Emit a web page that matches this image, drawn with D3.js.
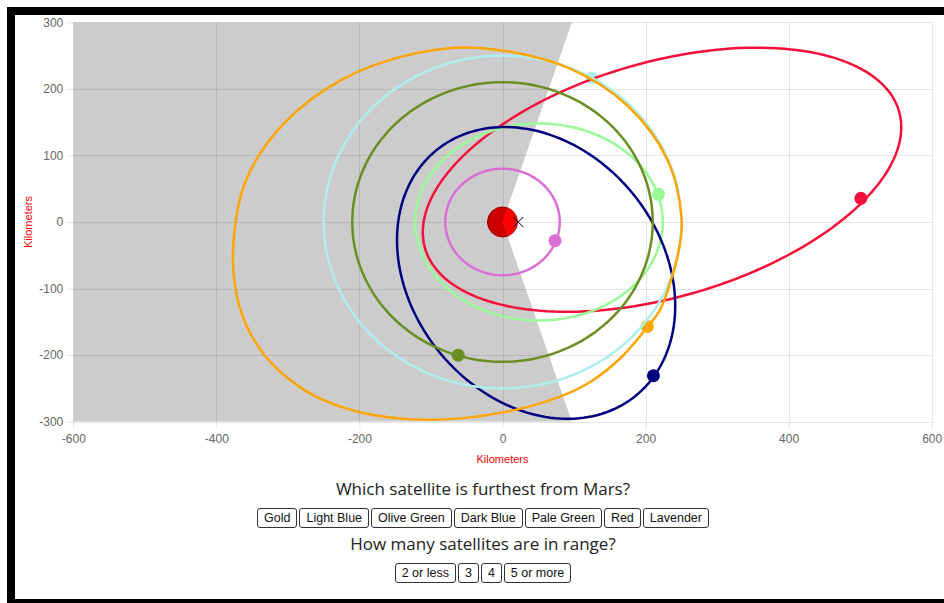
<!DOCTYPE html>
<html>
<head>
<meta charset="utf-8">
<script src="https://cdn.jsdelivr.net/npm/d3@7/dist/d3.min.js"></script>
<style>
  html, body { margin: 0; padding: 0; background: #fff; overflow: hidden; }
  body { width: 944px; height: 603px; position: relative; }
  #frame { position: absolute; left: 7px; top: 7px; width: 1000px; height: 700px;
           border-left: 8px solid #000; border-top: 8px solid #000; }
  #bottombar { position: absolute; left: 7px; top: 599px; width: 940px; height: 4px; background: #000; }
  svg { position: absolute; left: 0; top: 0; }
  .q { position: absolute; left: 15px; width: 936px; text-align: center;
       font-family: "Open Sans", sans-serif; font-size: 17px; color: #222; line-height: 20px; }
  .row { position: absolute; left: 15px; width: 936px; display: flex; justify-content: center; gap: 2px; }
  .row button { font-family: Arial, "Liberation Sans", sans-serif; font-size: 12.5px; color: #111;
       background: #fff; border: 1px solid #333; border-radius: 3px; padding: 0 6px; height: 20px;
       line-height: 18px; margin: 0; }
</style>
</head>
<body>
<div id="frame"></div>
<div id="bottombar"></div>
<svg id="chart" width="944" height="603"></svg>
<div class="q" style="top:479px">Which satellite is furthest from Mars?</div>
<div class="row" id="row1" style="top:508px"></div>
<div class="q" style="top:534px">How many satellites are in range?</div>
<div class="row" id="row2" style="top:563px"></div>
<script>
// ---- data ----
const satNames   = ["Gold", "Light Blue", "Olive Green", "Dark Blue", "Pale Green", "Red", "Lavender"];
const satColors  = ["#ffa500", "#afeeee", "#6b8e23", "#000080", "#98fb98", "#f5103a", "#da70d6"];
// elliptical orbits: centre (km), semi-axes (km), tilt (deg); null = traced orbit
const orbitCx    = [null, 0, 0, 47, 51, 223, 0];
const orbitCy    = [null, 0, 0, -76.5, 0, 63.5, 0];
const orbitA     = [null, 250, 210, 232, 173, 347, 80];
const orbitB     = [null, 250, 210, 179, 148, 175.5, 80];
const orbitTilt  = [null, 0, 0, -59, 0, 18, 0];
// Gold orbit trace (km)
const goldOrbitX = [-376.8, -358.9, -305.2, -222.5, -120.4, -31.5, 91.2, 175.3, 230.6, 250.5, 246, 234.2, 220.2, 202.4, 167.9, 126.9, 80.4, 1.1, -97, -181, -237, -279, -321, -349, -363, -371.4];
const goldOrbitY = [-45, 61.7, 148.4, 215.1, 253.7, 261.4, 232, 174.3, 93.4, 3, -45, -92, -132, -158.2, -201.3, -237.3, -262.4, -286, -297, -290, -273.3, -251, -214.4, -174.2, -142, -110.7];
// satellite positions
const satX       = [202.5, 125, -62, 211, 218, 501, 73.4];
const satY       = [-157, 216.5, -200, -231, 41.6, 35.6, -28];
// out-of-range shading
const shadeX     = [-600, 97, 0, 97, -600];
const shadeY     = [300, 300, 0, -300, -300];
const marsX = 0, marsY = 0;
const markX = 22, markY = 0;
const xTicks = [-600, -400, -200, 0, 200, 400, 600];
const yTicks = [-300, -200, -100, 0, 100, 200, 300];
const rangeAnswers = ["2 or less", "3", "4", "5 or more"];

// ---- scales ----
const x = d3.scaleLinear().domain([-600, 600]).range([73.3, 931.7]);
const y = d3.scaleLinear().domain([-300, 300]).range([421.7, 22.3]);
const svg = d3.select("#chart");
const fmt = d => String(d);

svg.append("defs").append("clipPath").attr("id", "plotclip").append("rect")
  .attr("x", x(-600)).attr("y", y(300))
  .attr("width", x(600) - x(-600)).attr("height", y(-300) - y(300));

// gridlines
const grid = svg.append("g").attr("stroke", "rgba(0,0,0,0.1)").attr("stroke-width", 1);
grid.selectAll(".gx").data(xTicks).join("line")
  .attr("x1", d => Math.round(x(d)) + 0.5).attr("x2", d => Math.round(x(d)) + 0.5)
  .attr("y1", y(300)).attr("y2", y(-300));
grid.selectAll(".gy").data(yTicks).join("line")
  .attr("y1", d => Math.round(y(d)) + 0.5).attr("y2", d => Math.round(y(d)) + 0.5)
  .attr("x1", x(-600)).attr("x2", x(600));

// axes
const axX = svg.append("g").attr("transform", `translate(0,${y(-300)})`)
  .call(d3.axisBottom(x).tickValues(xTicks).tickFormat(fmt).tickSize(7).tickPadding(6));
const axY = svg.append("g").attr("transform", `translate(${x(-600)},0)`)
  .call(d3.axisLeft(y).tickValues(yTicks).tickFormat(fmt).tickSize(7).tickPadding(3));
[axX, axY].forEach(a => {
  a.select(".domain").remove();
  a.selectAll("line").attr("stroke", "rgba(0,0,0,0.1)");
  a.selectAll("text").attr("fill", "#666").attr("font-size", 12)
    .attr("font-family", "'Liberation Sans', Arial, sans-serif");
});
svg.append("text").attr("x", (x(-600) + x(600)) / 2).attr("y", 463)
  .attr("text-anchor", "middle").attr("fill", "red").attr("font-size", 11)
  .attr("font-family", "'Liberation Sans', Arial, sans-serif").text("Kilometers");
svg.append("text").attr("transform", `translate(32,${y(0)}) rotate(-90)`)
  .attr("text-anchor", "middle").attr("fill", "red").attr("font-size", 11)
  .attr("font-family", "'Liberation Sans', Arial, sans-serif").text("Kilometers");

const plot = svg.append("g").attr("clip-path", "url(#plotclip)");

// Mars
plot.append("circle").attr("cx", x(marsX)).attr("cy", y(marsY)).attr("r", 15)
  .attr("fill", "#ff0000").attr("stroke", "#b00000").attr("stroke-width", 1);

// shaded out-of-range wedge
const shadePts = shadeX.map((v, i) => [x(v), y(shadeY[i])]);
plot.append("path").attr("d", d3.line().curve(d3.curveLinearClosed)(shadePts))
  .attr("fill", "rgba(0,0,0,0.2)");

// satellites (under the orbit lines)
const order = d3.range(satNames.length).reverse();
order.forEach(i => {
  plot.append("circle").attr("cx", x(satX[i])).attr("cy", y(satY[i])).attr("r", 6.5)
    .attr("fill", satColors[i]);
});

// orbits (drawn last-first so the first dataset is on top)
const ellipseGen = d3.line().curve(d3.curveLinearClosed);
const traceGen = d3.line().curve(d3.curveCatmullRomClosed.alpha(0.5));
order.forEach(i => {
  let d;
  if (orbitA[i] === null) {
    d = traceGen(goldOrbitX.map((v, k) => [x(v), y(goldOrbitY[k])]));
  } else {
    const th = orbitTilt[i] * Math.PI / 180;
    const pts = d3.range(0, 360, 2).map(t => {
      const r = t * Math.PI / 180;
      const ex = orbitA[i] * Math.cos(r), ey = orbitB[i] * Math.sin(r);
      return [x(orbitCx[i] + ex * Math.cos(th) - ey * Math.sin(th)),
              y(orbitCy[i] + ex * Math.sin(th) + ey * Math.cos(th))];
    });
    d = ellipseGen(pts);
  }
  plot.append("path").attr("d", d).attr("fill", "none")
    .attr("stroke", satColors[i]).attr("stroke-width", 2.5);
});

// cross marker
const mx = x(markX), my = y(markY), s = 5;
plot.append("path").attr("d", `M${mx - s},${my - s}L${mx + s},${my + s}M${mx - s},${my + s}L${mx + s},${my - s}`)
  .attr("stroke", "#000").attr("stroke-width", 1);

// buttons
d3.select("#row1").selectAll("button").data(satNames).join("button").text(d => d);
d3.select("#row2").selectAll("button").data(rangeAnswers).join("button").text(d => d);
</script>
</body>
</html>
